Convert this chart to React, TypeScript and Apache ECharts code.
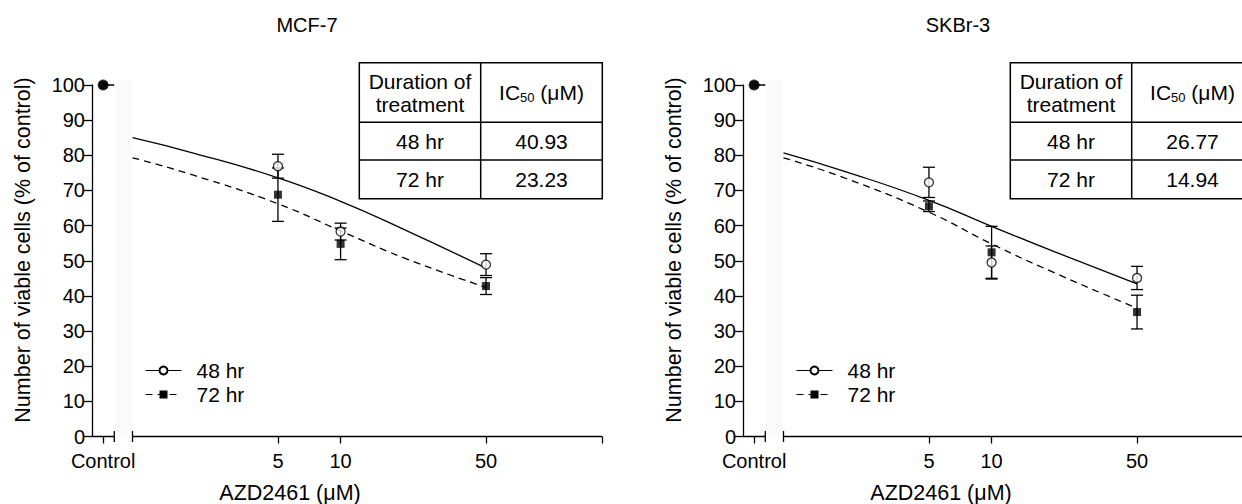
import React, { useEffect, useRef } from 'react';
import * as echarts from 'echarts';

// ---------- data ----------
const panelTitles = ['MCF-7', 'SKBr-3'];
const controlLabel = 'Control';
const seriesNames = ['48 hr', '72 hr'];
const doses = [5, 10, 50];
const doseTickLabels = [5, 10, 50];
const fitDoses = [1, 2, 5, 10, 20, 50];
const controlValues = [100, 100];

const mcf48Mean = [76.9, 58.3, 48.9];
const mcf48Err = [3.4, 2.4, 3.1];
const mcf72Mean = [68.8, 54.8, 42.8];
const mcf72Err = [7.6, 4.5, 2.4];
const mcf48Fit = [85.0, 80.5, 73.6, 66.9, 59.0, 47.9];
const mcf72Fit = [79.3, 74.2, 66.2, 58.5, 50.9, 42.4];

const sk48Mean = [72.3, 49.5, 45.1];
const sk48Err = [4.3, 4.7, 3.3];
const sk72Mean = [65.5, 52.4, 35.4];
const sk72Err = [1.5, 7.4, 4.8];
const sk48Fit = [80.7, 75.3, 67.2, 59.8, 52.6, 43.4];
const sk72Fit = [79.3, 73.4, 63.8, 54.8, 46.6, 36.5];

const tableHeader = ['Duration of\ntreatment', 'IC50 (μM)'];
const durations = ['48 hr', '72 hr'];
const mcfIC50 = ['40.93', '23.23'];
const skIC50 = ['26.77', '14.94'];

const yAxisName = 'Number of viable cells (% of control)';
const xAxisName = 'AZD2461 (μM)';

// ---------- layout ----------
const FONT = 'Liberation Sans, Arial, Helvetica, sans-serif';
const PANEL_DX = 651;
const Y_TOP = 85;
const Y_BOTTOM = 436.5;
const PLOT_H = Y_BOTTOM - Y_TOP;
const CTRL_LEFT = 92;
const CTRL_W = 22.3;
const MAIN_LEFT = 132.5;
const MAIN_W = 469.3;
const X_MIN = 1;
const X_MAX = 180;
const FS_TICK = 20;
const FS = 21;

const panels = [
  { title: panelTitles[0], m48: mcf48Mean, e48: mcf48Err, m72: mcf72Mean, e72: mcf72Err, f48: mcf48Fit, f72: mcf72Fit, ic: mcfIC50, ctrl: controlValues[0] },
  { title: panelTitles[1], m48: sk48Mean, e48: sk48Err, m72: sk72Mean, e72: sk72Err, f48: sk48Fit, f72: sk72Fit, ic: skIC50, ctrl: controlValues[1] },
];

const black = '#000';

function errorBarRender(params: any, api: any) {
  const x = api.value(0);
  const lo = api.value(1);
  const hi = api.value(2);
  const p1 = api.coord([x, lo]);
  const p2 = api.coord([x, hi]);
  const w = 6;
  const style = { stroke: black, lineWidth: 1.3 };
  return {
    type: 'group',
    children: [
      { type: 'line', shape: { x1: p1[0], y1: p1[1], x2: p2[0], y2: p2[1] }, style },
      { type: 'line', shape: { x1: p1[0] - w, y1: p1[1], x2: p1[0] + w, y2: p1[1] }, style },
      { type: 'line', shape: { x1: p2[0] - w, y1: p2[1], x2: p2[0] + w, y2: p2[1] }, style },
    ],
  };
}

function buildOption() {
  const grid: any[] = [];
  const xAxis: any[] = [];
  const yAxis: any[] = [];
  const series: any[] = [];
  const legend: any[] = [];
  const graphic: any[] = [];

  // Fit-line series first (legend icons come from them)
  panels.forEach((pn, p) => {
    const fits = [pn.f48, pn.f72];
    fits.forEach((f, s) => {
      series.push({
        type: 'line',
        name: seriesNames[s],
        xAxisIndex: 2 * p + 1,
        yAxisIndex: 2 * p + 1,
        data: fitDoses.map((d, i) => [d, f[i]]),
        smooth: true,
        showSymbol: false,
        symbol: s === 0 ? 'circle' : 'rect',
        itemStyle: s === 0 ? { color: '#fff', borderColor: black, borderWidth: 1.2 } : { color: black },
        lineStyle: { color: black, width: 1.3, type: s === 0 ? 'solid' : [7, 5] },
        z: 2,
      });
    });
  });

  panels.forEach((pn, p) => {
    const dx = p * PANEL_DX;
    grid.push({ left: CTRL_LEFT + dx, top: Y_TOP, width: CTRL_W, height: PLOT_H, outerBoundsMode: 'none' });
    grid.push({ left: MAIN_LEFT + dx, top: Y_TOP, width: MAIN_W, height: PLOT_H, outerBoundsMode: 'none' });

    xAxis.push({
      gridIndex: 2 * p,
      type: 'value',
      min: 0,
      max: 2,
      splitLine: { show: false },
      axisLine: { lineStyle: { color: black, width: 1.3 } },
      axisTick: { customValues: [1], length: 7, lineStyle: { color: black, width: 1.3 } },
      axisLabel: { customValues: [1], formatter: () => controlLabel, margin: 14, fontSize: FS_TICK, color: black, fontFamily: FONT },
    });
    xAxis.push({
      gridIndex: 2 * p + 1,
      type: 'log',
      logBase: 10,
      min: X_MIN,
      max: X_MAX,
      splitLine: { show: false },
      minorTick: { show: false },
      axisLine: { lineStyle: { color: black, width: 1.3 } },
      axisTick: { customValues: [...doseTickLabels, X_MAX], length: 7, lineStyle: { color: black, width: 1.3 } },
      axisLabel: { customValues: doseTickLabels, formatter: (v: number) => String(v), margin: 14, fontSize: FS_TICK, color: black, fontFamily: FONT },
    });
    yAxis.push({
      gridIndex: 2 * p,
      type: 'value',
      min: 0,
      max: 100,
      interval: 10,
      splitLine: { show: false },
      axisLine: { show: true, lineStyle: { color: black, width: 1.3 } },
      axisTick: { show: true, length: 8, lineStyle: { color: black, width: 1.3 } },
      axisLabel: { fontSize: FS_TICK, color: black, fontFamily: FONT, margin: 7 },
    });
    yAxis.push({ gridIndex: 2 * p + 1, type: 'value', min: 0, max: 100, show: false });

    // control stub + control points
    series.push({
      type: 'line',
      xAxisIndex: 2 * p,
      yAxisIndex: 2 * p,
      data: [[1, pn.ctrl], [2, pn.ctrl]],
      symbol: 'none',
      lineStyle: { color: black, width: 1.5 },
      clip: false,
      z: 2,
    });
    series.push({
      type: 'scatter',
      name: seriesNames[0],
      xAxisIndex: 2 * p,
      yAxisIndex: 2 * p,
      data: [[1, pn.ctrl]],
      symbol: 'circle',
      symbolSize: 10,
      itemStyle: { color: black, borderColor: black, borderWidth: 1 },
      z: 3,
    });
    series.push({
      type: 'scatter',
      name: seriesNames[1],
      xAxisIndex: 2 * p,
      yAxisIndex: 2 * p,
      data: [[1, pn.ctrl]],
      symbol: 'rect',
      symbolSize: 8,
      itemStyle: { color: black },
      z: 4,
    });

    // error bars
    const groups = [
      { m: pn.m48, e: pn.e48 },
      { m: pn.m72, e: pn.e72 },
    ];
    groups.forEach((g) => {
      series.push({
        type: 'custom',
        xAxisIndex: 2 * p + 1,
        yAxisIndex: 2 * p + 1,
        renderItem: errorBarRender,
        encode: { x: 0, y: [1, 2] },
        data: doses.map((d, i) => [d, g.m[i] - g.e[i], g.m[i] + g.e[i]]),
        z: 2,
      });
    });
    // means
    series.push({
      type: 'scatter',
      name: seriesNames[0],
      xAxisIndex: 2 * p + 1,
      yAxisIndex: 2 * p + 1,
      data: doses.map((d, i) => [d, pn.m48[i]]),
      symbol: 'circle',
      symbolSize: 9,
      itemStyle: { color: '#fff', borderColor: black, borderWidth: 1.3 },
      z: 4,
    });
    series.push({
      type: 'scatter',
      name: seriesNames[1],
      xAxisIndex: 2 * p + 1,
      yAxisIndex: 2 * p + 1,
      data: doses.map((d, i) => [d, pn.m72[i]]),
      symbol: 'rect',
      symbolSize: 8,
      itemStyle: { color: black },
      z: 5,
    });

    legend.push({
      data: seriesNames,
      orient: 'vertical',
      left: 140 + dx,
      top: 355,
      itemWidth: 36,
      itemHeight: 10,
      itemGap: 3,
      selectedMode: false,
      lineStyle: { width: 1 },
      textStyle: { fontSize: FS, color: black, fontFamily: FONT, padding: [0, 0, 0, 10] },
    });

    // decorations: faint band, axis-break caps
    graphic.push({ type: 'rect', silent: true, z: -10, shape: { x: CTRL_LEFT + CTRL_W + dx + 1, y: 80, width: MAIN_LEFT - CTRL_LEFT - CTRL_W - 2, height: Y_BOTTOM - 80 }, style: { fill: '#fafafa' } });
    [CTRL_LEFT + CTRL_W, MAIN_LEFT].forEach((cx) => {
      graphic.push({ type: 'line', silent: true, shape: { x1: cx + dx, y1: Y_BOTTOM - 5.5, x2: cx + dx, y2: Y_BOTTOM + 5.5 }, style: { stroke: black, lineWidth: 1.3 } });
    });

    // titles and axis names
    graphic.push({ type: 'text', x: 307 + dx, y: 25, style: { text: pn.title, fontSize: 20, fontFamily: FONT, fill: black, align: 'center', verticalAlign: 'middle' } });
    graphic.push({ type: 'text', x: 290 + dx, y: 493, style: { text: xAxisName, fontSize: 21.5, fontFamily: FONT, fill: black, align: 'center', verticalAlign: 'middle' } });
    graphic.push({ type: 'text', x: 23 + dx, y: 250, rotation: Math.PI / 2, style: { text: yAxisName, fontSize: 21.5, fontFamily: FONT, fill: black, align: 'center', verticalAlign: 'middle' } });

    // IC50 table
    const tx0 = 359.3 + dx, tx1 = 480.7 + dx, tx2 = 602.3 + dx;
    const ty0 = 62.7, ty1 = 122.3, ty2 = 160, ty3 = 198.7;
    const ls = { stroke: black, lineWidth: 1.5 };
    graphic.push({ type: 'rect', shape: { x: tx0, y: ty0, width: tx2 - tx0, height: ty3 - ty0 }, style: { fill: '#fff', stroke: black, lineWidth: 1.5 }, z: 10 });
    graphic.push({ type: 'line', shape: { x1: tx1, y1: ty0, x2: tx1, y2: ty3 }, style: ls, z: 11 });
    graphic.push({ type: 'line', shape: { x1: tx0, y1: ty1, x2: tx2, y2: ty1 }, style: ls, z: 11 });
    graphic.push({ type: 'line', shape: { x1: tx0, y1: ty2, x2: tx2, y2: ty2 }, style: ls, z: 11 });
    const c1 = (tx0 + tx1) / 2, c2 = (tx1 + tx2) / 2;
    const txt = (x: number, y: number, text: string) => ({ type: 'text', x, y, z: 12, style: { text, fontSize: FS, lineHeight: 23, fontFamily: FONT, fill: black, align: 'center', verticalAlign: 'middle' } });
    graphic.push(txt(c1, (ty0 + ty1) / 2, tableHeader[0]));
    graphic.push({
      type: 'text', x: c2, y: (ty0 + ty1) / 2, z: 12,
      style: {
        text: '{n|IC}{s|50}{n| (μM)}',
        align: 'center', verticalAlign: 'middle', fill: black, fontFamily: FONT,
        rich: {
          n: { fontSize: FS, fontFamily: FONT, fill: black, lineHeight: 23 },
          s: { fontSize: 13, fontFamily: FONT, fill: black, verticalAlign: 'bottom', lineHeight: 23, padding: [8, 0, 0, 0] },
        },
      },
    });
    durations.forEach((d, i) => {
      const cy = i === 0 ? (ty1 + ty2) / 2 : (ty2 + ty3) / 2;
      graphic.push(txt(c1, cy, d));
      graphic.push(txt(c2, cy, pn.ic[i]));
    });
  });

  return {
    animation: false,
    backgroundColor: '#fff',
    textStyle: { fontFamily: FONT },
    grid,
    xAxis,
    yAxis,
    legend,
    series,
    graphic,
  };
}

export default function App() {
  const ref = useRef<HTMLDivElement>(null);
  useEffect(() => {
    const chart = echarts.init(ref.current!, null, { renderer: 'svg' });
    chart.setOption(buildOption() as any);
    return () => chart.dispose();
  }, []);
  return <div ref={ref} style={{ position: 'absolute', left: 0, top: 0, width: 1242, height: 504, background: '#fff' }} />;
}
